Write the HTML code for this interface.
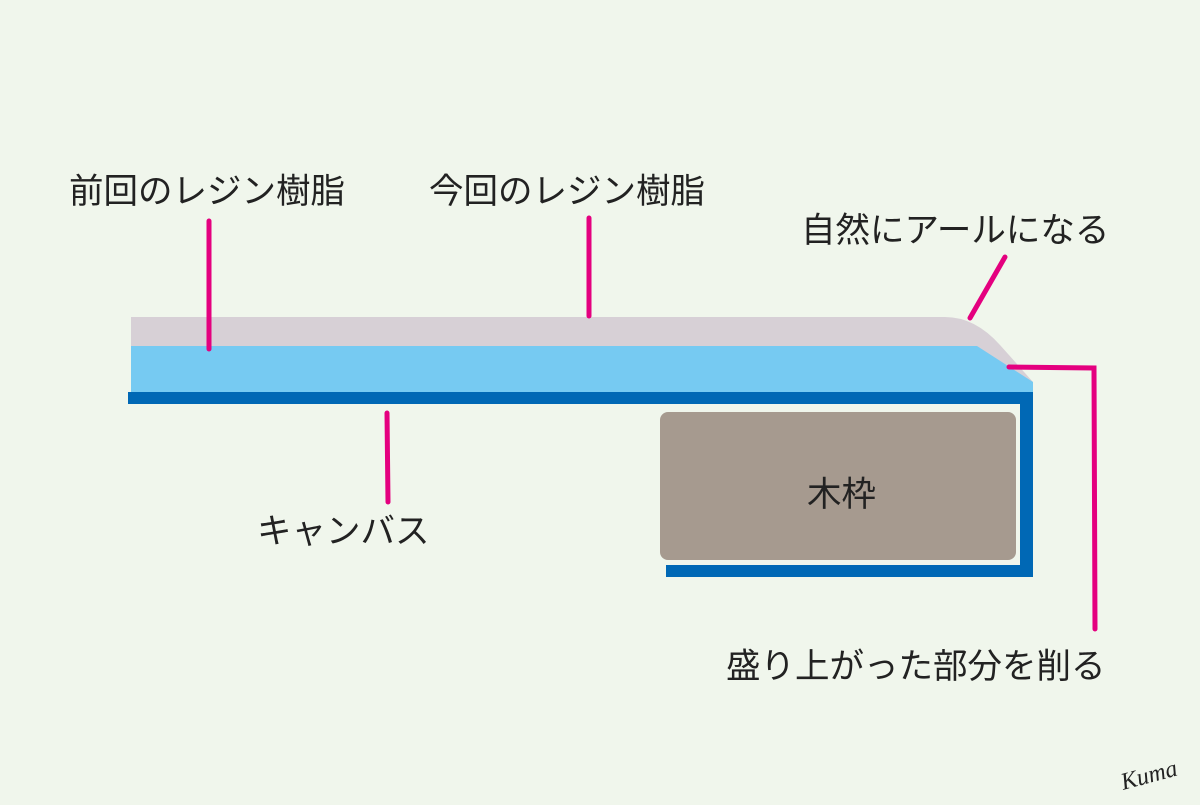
<!DOCTYPE html>
<html><head><meta charset="utf-8"><style>
body{margin:0;background:#f0f6ec;}
svg text{font-family:"Liberation Sans","Noto Sans CJK JP",sans-serif;font-size:34.5px;fill:#222;}
</style></head><body>
<svg width="1200" height="800" viewBox="0 0 1200 800" xmlns="http://www.w3.org/2000/svg">
<rect width="1200" height="800" fill="#f0f6ec"/>
<path d="M131 317 L945 317 Q975 317 1000 345 L1033 382 L1033 392 L131 392 Z" fill="#d7d0d6"/>
<path d="M131 346 L977 346 L1033 382 L1033 392 L131 392 Z" fill="#76caf2"/>
<rect x="128" y="392" width="905" height="12" fill="#0068b5"/>
<rect x="1020" y="392" width="13" height="185" fill="#0068b5"/>
<rect x="666" y="565" width="367" height="12" fill="#0068b5"/>
<rect x="660" y="412" width="356" height="148" rx="8" fill="#a69a8f"/>
<g stroke="#e4007f" stroke-width="5" stroke-linecap="round" fill="none">
<line x1="209" y1="221" x2="209" y2="349"/>
<line x1="589" y1="218" x2="589" y2="316"/>
<line x1="387" y1="413" x2="388" y2="502"/>
<line x1="1005" y1="257" x2="970" y2="318"/>
<polyline points="1009,367 1094,368 1095,629"/>
</g>
<text x="69" y="203">前回のレジン樹脂</text>
<text x="429" y="203">今回のレジン樹脂</text>
<text x="801" y="242">自然にアールになる</text>
<text x="257" y="543">キャンバス</text>
<text x="726" y="678">盛り上がった部分を削る</text>
<text x="807" y="506">木枠</text>
<text x="1120" y="785" transform="rotate(-15 1140 775)" style="font-size:24px;font-style:italic;font-family:'Liberation Serif',serif">Kuma</text>
</svg>
</body></html>
